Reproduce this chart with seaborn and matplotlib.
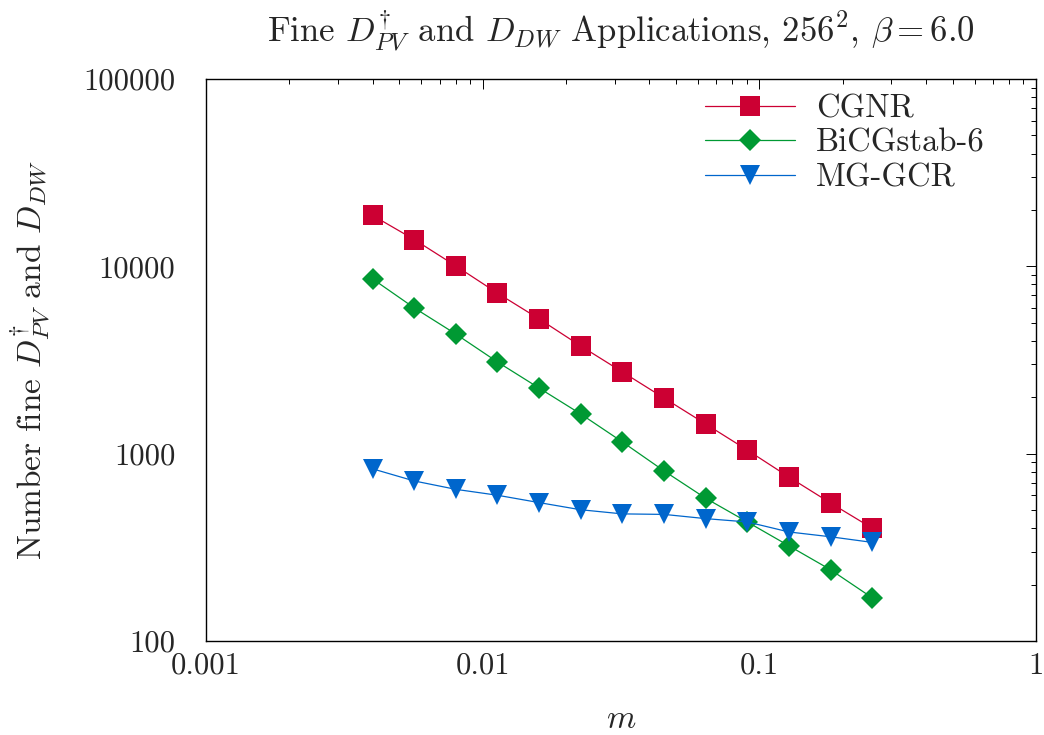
import numpy as np
import pandas as pd
import seaborn as sns
import matplotlib
matplotlib.use("Agg")
import matplotlib.pyplot as plt
from matplotlib.ticker import FixedLocator, FixedFormatter, LogLocator, NullFormatter

# mass values (factor sqrt(2) apart)
mass = [0.004, 0.00566, 0.008, 0.0113, 0.016, 0.0226, 0.032, 0.0453, 0.064, 0.0905, 0.128, 0.181, 0.256]
cgnr = [18700, 13900, 10050, 7200, 5240, 3760, 2730, 1980, 1440, 1045, 750, 545, 400]
bicgstab = [8570, 6000, 4350, 3090, 2240, 1630, 1155, 808, 578, 432, 322, 240, 170]
mggcr = [830, 715, 645, 600, 548, 502, 477, 474, 450, 432, 382, 360, 336]

x_ticks = [0.001, 0.01, 0.1, 1]
x_labels = ["0.001", "0.01", "0.1", "1"]
y_ticks = [100, 1000, 10000, 100000]
y_labels = ["100", "1000", "10000", "100000"]

series = ["CGNR", "BiCGstab-6", "MG-GCR"]
df = pd.DataFrame({
    "m": mass * 3,
    "count": cgnr + bicgstab + mggcr,
    "method": [s for s in series for _ in mass],
})

sns.set_style("white")
plt.rcParams["font.family"] = ["cmr10", "DejaVu Serif"]
plt.rcParams["mathtext.fontset"] = "cm"
plt.rcParams["axes.formatter.use_mathtext"] = True

colors = {"CGNR": "#CC0033", "BiCGstab-6": "#009933", "MG-GCR": "#0066CC"}
markers = {"CGNR": "s", "BiCGstab-6": "D", "MG-GCR": "v"}
msizes = {"CGNR": 14.5, "BiCGstab-6": 11.5, "MG-GCR": 14}

fig = plt.figure(figsize=(10.44, 7.35), dpi=100)
ax = fig.add_axes([0.1973, 0.1279, 0.795, 0.7646])

for name in series:
    sub = df[df["method"] == name]
    sns.lineplot(data=sub, x="m", y="count", ax=ax, color=colors[name], marker=markers[name],
                 markersize=msizes[name], markeredgewidth=0, linewidth=0.9, label=name)

ax.set_xscale("log")
ax.set_yscale("log")
ax.set_xlim(0.001, 1)
ax.set_ylim(100, 100000)

ax.xaxis.set_major_locator(FixedLocator(x_ticks))
ax.xaxis.set_major_formatter(FixedFormatter(x_labels))
ax.yaxis.set_major_locator(FixedLocator(y_ticks))
ax.yaxis.set_major_formatter(FixedFormatter(y_labels))
ax.xaxis.set_minor_locator(LogLocator(base=10, subs=np.arange(2, 10), numticks=20))
ax.yaxis.set_minor_locator(LogLocator(base=10, subs=np.arange(2, 10), numticks=20))
ax.xaxis.set_minor_formatter(NullFormatter())
ax.yaxis.set_minor_formatter(NullFormatter())

ax.tick_params(which="both", direction="in", top=True, right=True, labelsize=22, color="black", width=0.7)
ax.tick_params(axis="y", which="major", length=7, pad=22)
ax.tick_params(axis="x", which="major", length=7, pad=8)
ax.tick_params(which="minor", length=3.5)
for sp in ax.spines.values():
    sp.set_color("black")
    sp.set_linewidth(1.0)

ax.set_xlabel("$m$", fontsize=24)
ax.xaxis.set_label_coords(0.5, -0.113)
ax.set_ylabel(r"Number fine $D^{\dagger}_{PV}$ and $D_{DW}$", fontsize=24)
ax.yaxis.set_label_coords(-0.184, 0.5)
ax.set_title(r"Fine $D^{\dagger}_{PV}$ and $D_{DW}$ Applications, $256^2$, $\beta = 6.0$", fontsize=25, pad=27)

leg = ax.legend(loc="upper right", bbox_to_anchor=(0.9386, 0.973), frameon=False, fontsize=23.5,
                handlelength=2.76, handletextpad=0.64, labelspacing=0.17, borderpad=0.0, borderaxespad=0.0)

fig.savefig("out.png", dpi=100)
